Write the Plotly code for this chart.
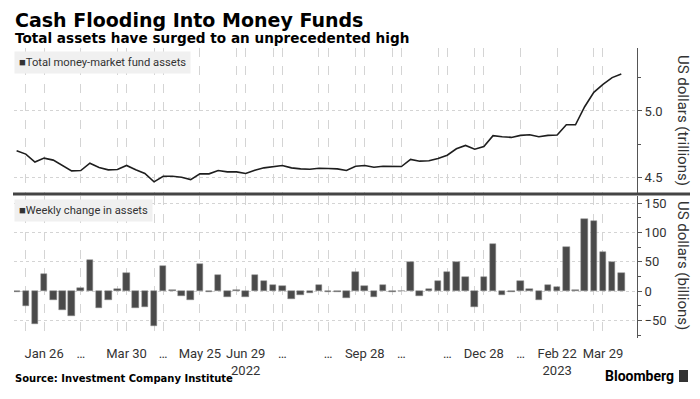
import pandas as pd
import plotly.graph_objects as go
from plotly.subplots import make_subplots

# ---- data ----
start_date = "2022-01-05"
n_weeks = 67
dates = pd.date_range(start_date, periods=n_weeks, freq="7D")

total_assets = [
    4.702, 4.677, 4.617, 4.647, 4.632, 4.590, 4.551, 4.554, 4.609, 4.577,
    4.559, 4.562, 4.592, 4.559, 4.532, 4.469, 4.511, 4.511, 4.504, 4.486,
    4.529, 4.529, 4.554, 4.544, 4.544, 4.532, 4.556, 4.574, 4.581, 4.592,
    4.574, 4.566, 4.564, 4.571, 4.569, 4.566, 4.554, 4.586, 4.592, 4.579,
    4.586, 4.584, 4.584, 4.637, 4.624, 4.627, 4.644, 4.669, 4.717, 4.742,
    4.714, 4.734, 4.815, 4.807, 4.802, 4.817, 4.822, 4.807, 4.817, 4.820,
    4.897, 4.897, 5.032, 5.140, 5.200, 5.250, 5.278,
]

weekly_change = [
    -1, -25, -56, 29, -16, -33, -42, 5, 53, -29,
    -15, 3, 31, -29, -28, -60, 43, 2, -9, -15,
    46, -2, 28, -10, 1, -10, 28, 18, 11, 9,
    -13, -6, -4, 10, -1, -2, -11, 33, 8, -10,
    11, -2, 0.5, 49, -9, 4, 17, 32, 49, 24,
    -27, 24, 81, -7, -1, 17, 3, -15, 11, 7,
    75, 1, 123, 119, 67, 50, 31,
]

grid_dates = [
    "2022-01-12", "2022-01-26", "2022-02-23", "2022-03-23", "2022-03-30",
    "2022-04-20", "2022-04-27", "2022-05-25", "2022-06-22", "2022-06-29",
    "2022-07-20", "2022-07-27", "2022-08-24", "2022-08-31", "2022-09-21",
    "2022-09-28", "2022-10-19", "2022-10-26", "2022-11-23", "2022-11-30",
    "2022-12-21", "2022-12-28", "2023-01-25", "2023-02-22", "2023-03-22",
    "2023-03-29",
]
grid_labels = [
    "", "Jan 26", "…", "", "Mar 30",
    "", "…", "May 25", "", "Jun 29<br>2022",
    "", "…", "", "…", "",
    "Sep 28", "", "…", "", "…",
    "", "Dec 28", "…", "Feb 22<br>2023", "",
    "Mar 29",
]

# ---- layout helpers (pixel geometry, in window pixels) ----
OFF = 8                 # page body margin offset
W, H = 700 - OFF, 399 - OFF
L, R = 14, 637          # plot left / right px (window)
T, B = 48, 338          # plot top / bottom px (window)
SEP = 194               # separator px


def px(x):
    return (x - L) / (R - L)


def py(y):
    return (B - y) / (B - T)


fig = make_subplots(rows=2, cols=1, shared_xaxes=True, vertical_spacing=0.0)

fig.add_trace(go.Scatter(x=dates, y=total_assets, mode="lines",
                         line=dict(color="#1e1e1e", width=1.6),
                         hoverinfo="skip"), row=1, col=1)
fig.add_trace(go.Bar(x=dates, y=weekly_change,
                     width=5 * 86400000,
                     marker=dict(color="#4a4a4a", line=dict(color="#8a8a8a", width=0.5)),
                     hoverinfo="skip"), row=2, col=1)

xrange = ["2022-01-03", "2023-04-24"]
tickfont = dict(family="Roboto", size=13, color="#333333")

fig.update_xaxes(type="date", range=xrange, tickmode="array",
                 tickvals=grid_dates, ticktext=grid_labels,
                 showgrid=True, gridcolor="#d4d4d4", griddash="dash", gridwidth=1,
                 showline=False, zeroline=False, ticks="", tickfont=tickfont,
                 ticklabelstandoff=6)
fig.update_xaxes(showticklabels=False, row=1, col=1)

top_dom = [py(SEP), 1.0]
bot_dom = [0.0, py(SEP + 2)]

fig.update_layout(
    xaxis=dict(domain=[0, 1]),
    xaxis2=dict(domain=[0, 1]),
    yaxis=dict(domain=top_dom, range=[4.378, 5.472], side="right",
               tick0=4.5, dtick=0.5, tickformat=".1f",
               showgrid=True, gridcolor="#d4d4d4", griddash="dot",
               zeroline=False, showline=True, linecolor="#555555", linewidth=1,
               ticks="outside", ticklen=4, tickcolor="#555555",
               minor=dict(dtick=0.25, tick0=4.25, ticks="outside", ticklen=3,
                          tickcolor="#555555", showgrid=False),
               tickfont=tickfont),
    yaxis2=dict(domain=bot_dom, range=[-80, 162], side="right",
                tick0=0, dtick=50,
                showgrid=True, gridcolor="#d4d4d4", griddash="dot",
                zeroline=False, showline=True, linecolor="#555555", linewidth=1,
                ticks="outside", ticklen=4, tickcolor="#555555",
                minor=dict(dtick=25, tick0=0, ticks="outside", ticklen=3,
                           tickcolor="#555555", showgrid=False),
                tickfont=tickfont),
    width=W, height=H,
    margin=dict(l=L - OFF, r=700 - R, t=T - OFF, b=399 - B, pad=0),
    plot_bgcolor="white", paper_bgcolor="white",
    showlegend=False,
    bargap=0,
)

ann = []
ann.append(dict(text="<b>Cash Flooding Into Money Funds</b>", x=px(13), y=py(20),
                xanchor="left", yanchor="middle",
                font=dict(family="DejaVu Sans", size=19, color="#000000")))
ann.append(dict(text="<b>Total assets have surged to an unprecedented high</b>", x=px(13), y=py(38),
                xanchor="left", yanchor="middle",
                font=dict(family="DejaVu Sans", size=13.6, color="#000000")))
ann.append(dict(text="■Total money-market fund assets", x=px(14), y=py(62),
                xanchor="left", yanchor="middle", bgcolor="#f0f0f0", borderpad=4,
                font=dict(family="Roboto", size=11.2, color="#333333")))
ann.append(dict(text="■Weekly change in assets", x=px(14), y=py(210),
                xanchor="left", yanchor="middle", bgcolor="#f0f0f0", borderpad=4,
                font=dict(family="Roboto", size=11.2, color="#333333")))
ann.append(dict(text="US dollars (trillions)", x=px(683), y=py(121), textangle=90,
                xanchor="center", yanchor="middle",
                font=dict(family="Roboto", size=15, color="#333333")))
ann.append(dict(text="US dollars (billions)", x=px(683), y=py(266), textangle=90,
                xanchor="center", yanchor="middle",
                font=dict(family="Roboto", size=15, color="#333333")))
ann.append(dict(text="<b>Source: Investment Company Institute</b>", x=px(13), y=py(378),
                xanchor="left", yanchor="middle",
                font=dict(family="DejaVu Sans", size=10, color="#000000")))
ann.append(dict(text="<b>Bloomberg</b>", x=px(676), y=py(376),
                xanchor="right", yanchor="middle",
                font=dict(family="Roboto", size=14, color="#000000")))
for a in ann:
    a.update(xref="paper", yref="paper", showarrow=False)
fig.update_layout(annotations=ann)

fig.add_shape(type="line", xref="paper", yref="paper",
              x0=px(13), x1=px(690), y0=py(SEP), y1=py(SEP),
              line=dict(color="#444444", width=3))
fig.add_shape(type="rect", xref="paper", yref="paper",
              x0=px(679), x1=px(688), y0=py(382), y1=py(370),
              fillcolor="#333333", line=dict(width=0))

fig.write_html("out.html")
